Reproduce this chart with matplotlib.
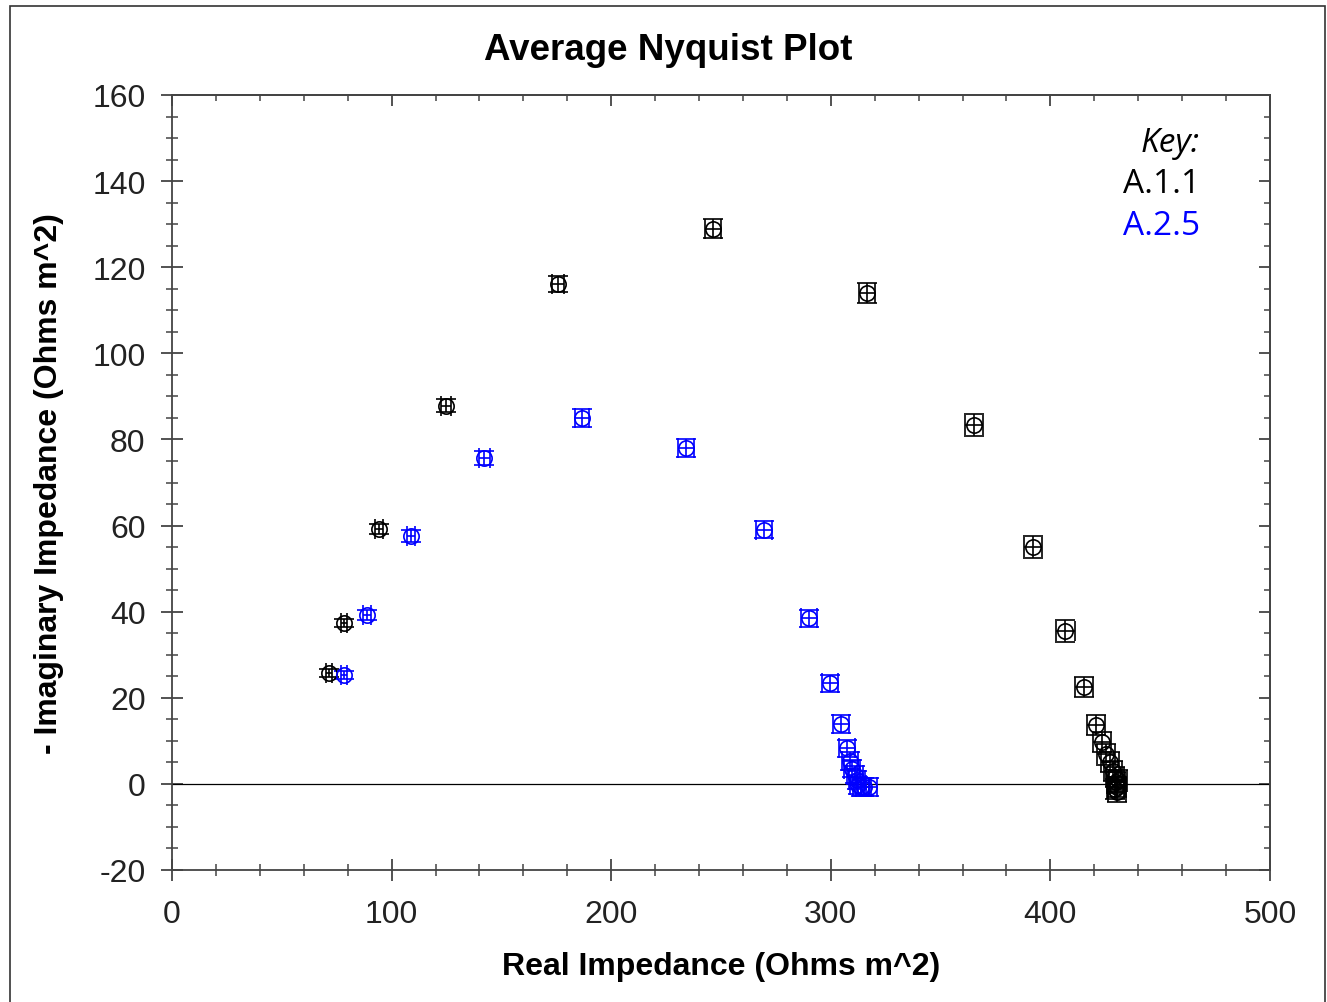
import matplotlib.pyplot as plt
from matplotlib.ticker import MultipleLocator
from matplotlib.patches import Rectangle

plt.rcParams['axes.unicode_minus'] = False

# A.1.1 (black)
a11_real = [71.5, 78.3, 94.3, 124.8, 175.8, 246.4, 316.5, 365.2, 392.1, 406.7,
            415.3, 420.8, 423.5, 425.3, 427.1, 428.5, 429.4, 429.9, 430.3, 430.3, 429.6, 430.8]
a11_imag = [25.8, 37.4, 59.2, 87.8, 116.1, 128.9, 114.0, 83.3, 55.0, 35.5,
            22.5, 13.7, 9.7, 6.9, 5.1, 3.0, 1.6, 0.4, -0.7, -1.9, -1.2, 0.8]
a11_xerr = [1.5, 1.5, 1.8, 2.2, 2.8, 3.5, 3.8, 4.3, 4.3, 4.3,
            4.0, 4.0, 4.0, 4.0, 4.0, 4.0, 4.0, 4.0, 4.0, 4.0, 4.0, 4.0]
a11_yerr = [1.0, 1.0, 1.2, 1.5, 1.8, 2.2, 2.4, 2.6, 2.6, 2.5,
            2.4, 2.4, 2.4, 2.4, 2.4, 2.4, 2.4, 2.4, 2.4, 2.4, 2.4, 2.4]

# A.2.5 (blue)
a25_real = [78.3, 88.8, 108.8, 142.1, 186.7, 234.1, 269.6, 290.1, 299.6, 304.6,
            307.4, 308.7, 309.6, 311.0, 311.9, 312.4, 313.7, 315.0, 317.4]
a25_imag = [25.3, 39.2, 57.6, 75.7, 85.0, 78.0, 59.0, 38.5, 23.4, 13.9,
            8.3, 5.3, 3.5, 2.1, 0.9, -0.3, -0.7, -0.7, -0.7]
a25_xerr = [1.5, 1.8, 2.0, 2.5, 3.2, 3.5, 3.5, 3.5, 3.5, 3.5,
            3.5, 3.5, 3.5, 3.5, 3.5, 3.5, 3.5, 3.5, 3.5]
a25_yerr = [1.0, 1.2, 1.4, 1.6, 2.0, 2.0, 2.0, 2.0, 2.0, 2.0,
            2.0, 2.0, 2.0, 2.0, 2.0, 2.0, 2.0, 2.0, 2.0]

W, H = 1327, 1003
fig = plt.figure(figsize=(W / 100, H / 100), dpi=100)
ax = fig.add_axes([172 / W, 1 - 871 / H, (1270 - 172) / W, (871 - 96) / H])

# outer frame
fig.patches.append(Rectangle((10 / W, -0.01), (1325 - 10) / W, 1 - 7 / H + 0.01,
                             transform=fig.transFigure, fill=False,
                             edgecolor='#333333', linewidth=1.2))

for xs, ys, xe, ye, col in [(a11_real, a11_imag, a11_xerr, a11_yerr, 'black'),
                            (a25_real, a25_imag, a25_xerr, a25_yerr, '#0000ff')]:
    ax.errorbar(xs, ys, xerr=xe, yerr=ye, fmt='o', markersize=11,
                markerfacecolor='none', markeredgecolor=col, markeredgewidth=1.2,
                ecolor=col, elinewidth=1.2, capsize=7, capthick=1.2, zorder=3)

ax.axhline(0, color='black', linewidth=0.9, zorder=2)

ax.set_xlim(0, 500)
ax.set_ylim(-20, 160)
ax.xaxis.set_major_locator(MultipleLocator(100))
ax.xaxis.set_minor_locator(MultipleLocator(20))
ax.yaxis.set_major_locator(MultipleLocator(20))
ax.yaxis.set_minor_locator(MultipleLocator(5))

spine_col = '#444444'
for s in ax.spines.values():
    s.set_color(spine_col)
    s.set_linewidth(1.3)

ax.tick_params(which='major', direction='inout', length=16, width=1.3,
               color=spine_col, labelsize=23, labelcolor='#222222')
ax.tick_params(axis='y', which='major', pad=11)
ax.tick_params(axis='x', which='major', pad=13)
ax.tick_params(which='minor', direction='inout', length=8, width=1.1, color=spine_col)
for lab in ax.get_xticklabels() + ax.get_yticklabels():
    lab.set_family('Liberation Sans')

# inward ticks on top and right
top = ax.secondary_xaxis('top')
top.xaxis.set_major_locator(MultipleLocator(100))
top.xaxis.set_minor_locator(MultipleLocator(20))
top.tick_params(which='major', direction='in', length=8, width=1.3, color=spine_col, labeltop=False)
top.tick_params(which='minor', direction='in', length=4, width=1.1, color=spine_col)
right = ax.secondary_yaxis('right')
right.yaxis.set_major_locator(MultipleLocator(20))
right.yaxis.set_minor_locator(MultipleLocator(5))
right.tick_params(which='major', direction='in', length=8, width=1.3, color=spine_col, labelright=False)
right.tick_params(which='minor', direction='in', length=4, width=1.1, color=spine_col)
for a in (top, right):
    for s in a.spines.values():
        s.set_color(spine_col)
        s.set_linewidth(1.3)

fig.text(668 / W, 1 - 51 / H, 'Average Nyquist Plot', fontsize=26.5, fontweight='bold',
         family='Liberation Sans', ha='center', va='center')
ax.set_xlabel('Real Impedance (Ohms m^2)', fontsize=23, fontweight='bold',
              family='Liberation Sans', labelpad=16)
ax.set_ylabel('- Imaginary Impedance (Ohms m^2)', fontsize=23, fontweight='bold',
              family='Liberation Sans', labelpad=20)

ax.text(0.936, 0.939, 'Key:', transform=ax.transAxes, ha='right', va='center',
        fontsize=24, style='italic', family='Open Sans', color='black')
ax.text(0.936, 0.886, 'A.1.1', transform=ax.transAxes, ha='right', va='center',
        fontsize=24, family='Open Sans', fontweight='medium', color='black')
ax.text(0.936, 0.832, 'A.2.5', transform=ax.transAxes, ha='right', va='center',
        fontsize=24, family='Open Sans', fontweight='medium', color='#0000ff')

fig.savefig('out.png', dpi=100)
